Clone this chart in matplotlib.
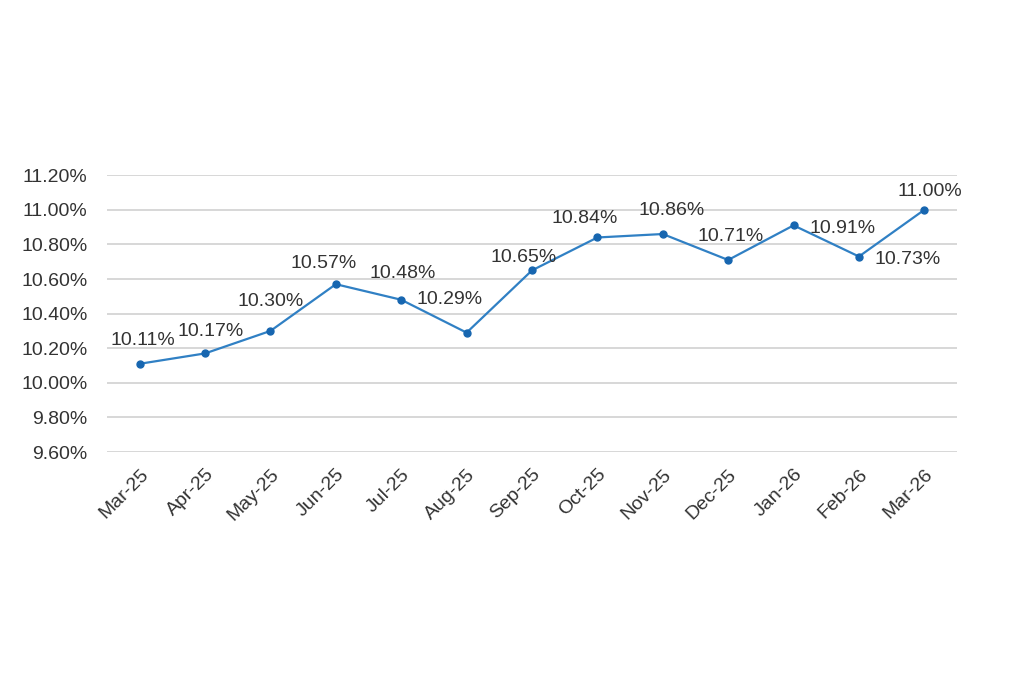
import matplotlib.pyplot as plt
from matplotlib.ticker import FuncFormatter

meses = ['Mar-25', 'Apr-25', 'May-25', 'Jun-25', 'Jul-25', 'Aug-25', 'Sep-25',
         'Oct-25', 'Nov-25', 'Dec-25', 'Jan-26', 'Feb-26', 'Mar-26']
tasas = [10.11, 10.17, 10.30, 10.57, 10.48, 10.29, 10.65,
         10.84, 10.86, 10.71, 10.91, 10.73, 11.00]
ticks_y = [9.60, 9.80, 10.00, 10.20, 10.40, 10.60, 10.80, 11.00, 11.20]

# desplazamiento de cada etiqueta (puntos)
offsets = [(2, 17), (4, 16), (0, 21), (-9, 15), (1, 19), (-12, 24), (-6, 9),
           (-9, 14), (6, 17), (2, 17), (35, -2), (35, -2), (4, 13)]

plt.rcParams['font.family'] = ['Liberation Sans', 'DejaVu Sans']

fig = plt.figure(figsize=(10.24, 6.98), dpi=100)
ax = fig.add_axes([0.1045, 0.3524, 0.8301, 0.3966])

x = list(range(len(meses)))
ax.plot(x, tasas, color='#3080c4', lw=1.6, marker='o', ms=5,
        mfc='#1766b0', mec='#1766b0', zorder=3)

for i, v in enumerate(tasas):
    ax.annotate(f'{v:.2f}%', (i, v), xytext=offsets[i], textcoords='offset points',
                ha='center', va='center', fontsize=14, color='#333333')

ax.set_xlim(-0.5, len(meses) - 0.5)
ax.set_ylim(9.6, 11.2)
ax.set_yticks(ticks_y)
ax.yaxis.set_major_formatter(FuncFormatter(lambda v, p: f'{v:.2f}%'))
ax.set_xticks(x)
ax.set_xticklabels(meses, rotation=45, ha='right', rotation_mode='anchor')
ax.tick_params(length=0, labelsize=14, labelcolor='#333333')
ax.tick_params(axis='y', pad=14)
ax.tick_params(axis='x', pad=10)
ax.grid(axis='y', color='#d4d4d4', lw=1.3)
ax.set_axisbelow(True)
for s in ax.spines.values():
    s.set_visible(False)

fig.savefig('out.png', dpi=100, facecolor='white')
